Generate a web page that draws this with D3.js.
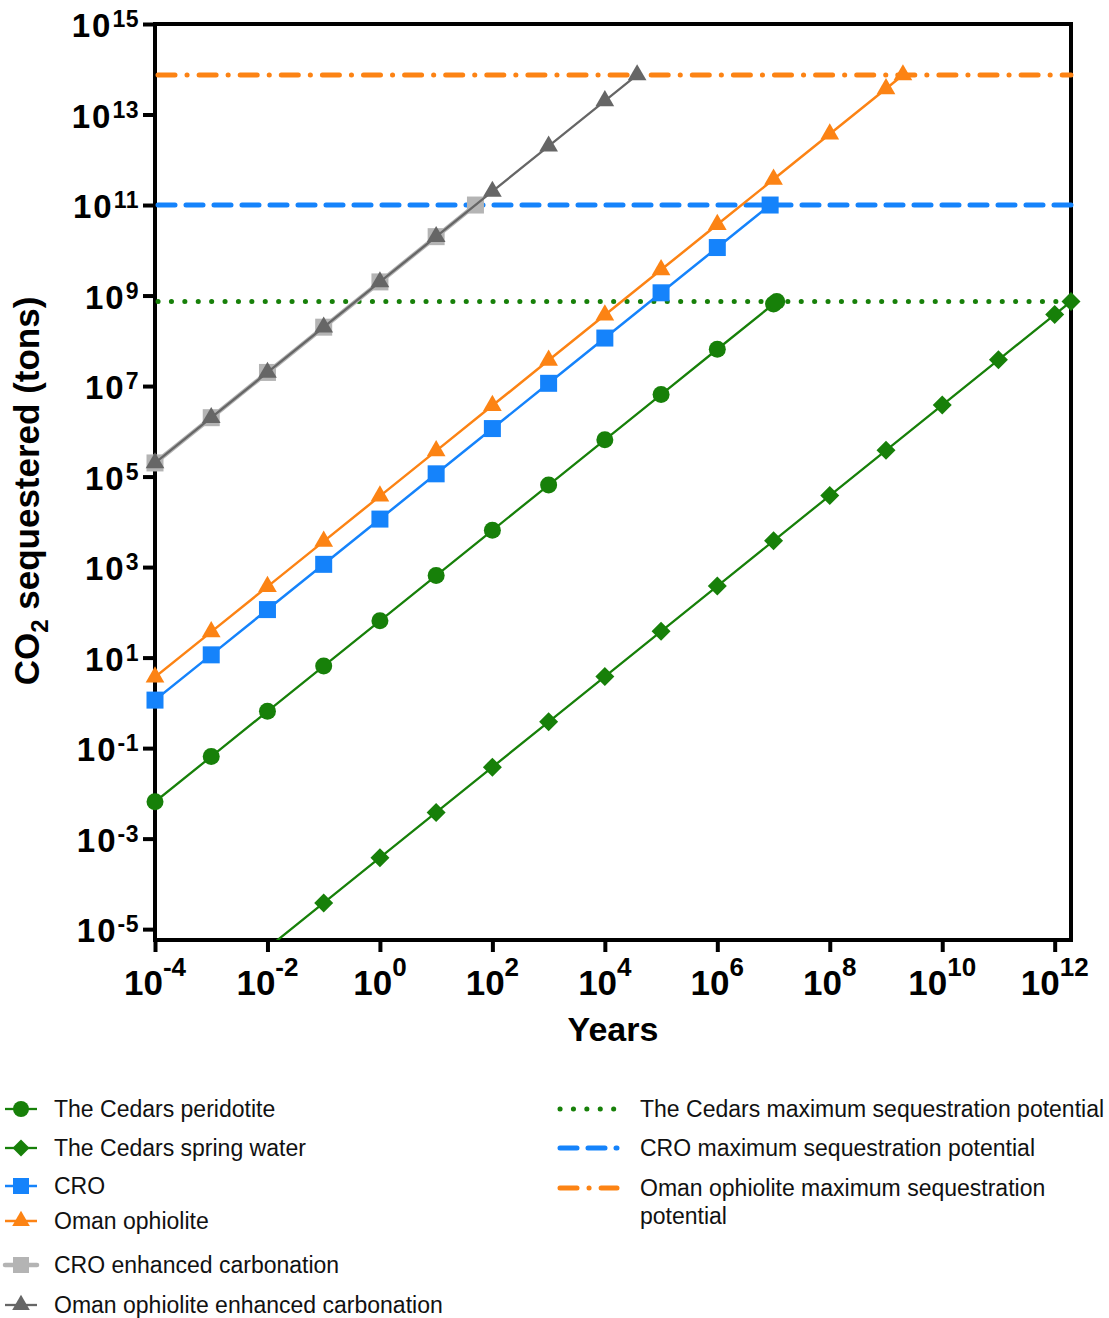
<!DOCTYPE html>
<html>
<head>
<meta charset="utf-8">
<script src="https://cdn.jsdelivr.net/npm/d3@7"></script>
<style>
  html, body { margin: 0; padding: 0; background: #fff; }
  svg { display: block; font-family: "Liberation Sans", Arial, Helvetica, sans-serif; }
</style>
</head>
<body>
<svg id="chart" width="1109" height="1318"></svg>
<script>
// ---------------- DATA ----------------
const xTickValues = [1e-4, 1e-2, 1e0, 1e2, 1e4, 1e6, 1e8, 1e10, 1e12];
const xTickExponents = ["-4", "-2", "0", "2", "4", "6", "8", "10", "12"];
const yTickValues = [1e-5, 1e-3, 1e-1, 1e1, 1e3, 1e5, 1e7, 1e9, 1e11, 1e13, 1e15];
const yTickExponents = ["-5", "-3", "-1", "1", "3", "5", "7", "9", "11", "13", "15"];

const cedarsPeridotiteYears = [1e-4, 1e-3, 1e-2, 1e-1, 1, 10, 100, 1e3, 1e4, 1e5, 1e6, 1e7, 1.14e7];
const cedarsPeridotiteTons  = [6.5e-3, 6.5e-2, 0.65, 6.5, 65, 650, 6.5e3, 6.5e4, 6.5e5, 6.5e6, 6.5e7, 6.5e8, 7.4e8];

const cedarsSpringYears = [1e-4, 1e-3, 1e-2, 1e-1, 1, 10, 100, 1e3, 1e4, 1e5, 1e6, 1e7, 1e8, 1e9, 1e10, 1e11, 1e12, 1.95e12];
const cedarsSpringTons  = [3.8e-8, 3.8e-7, 3.8e-6, 3.8e-5, 3.8e-4, 3.8e-3, 3.8e-2, 0.38, 3.8, 38, 380, 3.8e3, 3.8e4, 3.8e5, 3.8e6, 3.8e7, 3.8e8, 7.4e8];

const croYears = [1e-4, 1e-3, 1e-2, 1e-1, 1, 10, 100, 1e3, 1e4, 1e5, 1e6, 8.7e6];
const croTons  = [1.15, 11.5, 115, 1.15e3, 1.15e4, 1.15e5, 1.15e6, 1.15e7, 1.15e8, 1.15e9, 1.15e10, 1e11];

const omanYears = [1e-4, 1e-3, 1e-2, 1e-1, 1, 10, 100, 1e3, 1e4, 1e5, 1e6, 1e7, 1e8, 1e9, 2.0e9];
const omanTons  = [3.7, 37, 370, 3.7e3, 3.7e4, 3.7e5, 3.7e6, 3.7e7, 3.7e8, 3.7e9, 3.7e10, 3.7e11, 3.7e12, 3.7e13, 7.5e13];

const croEnhancedYears = [1e-4, 1e-3, 1e-2, 1e-1, 1, 10, 50];
const croEnhancedTons  = [2e5, 2e6, 2e7, 2e8, 2e9, 2e10, 1e11];

const omanEnhancedYears = [1e-4, 1e-3, 1e-2, 1e-1, 1, 10, 100, 1e3, 1e4, 3.75e4];
const omanEnhancedTons  = [2e5, 2e6, 2e7, 2e8, 2e9, 2e10, 2e11, 2e12, 2e13, 7.5e13];

const cedarsMaxTons = 7.4e8;
const croMaxTons = 1e11;
const omanMaxTons = 7.5e13;

const seriesNames = ["The Cedars peridotite", "The Cedars spring water", "CRO", "Oman ophiolite",
                     "CRO enhanced carbonation", "Oman ophiolite enhanced carbonation"];
const maxNames = ["The Cedars maximum sequestration potential", "CRO maximum sequestration potential",
                  ["Oman ophiolite maximum sequestration", "potential"]];

// ---------------- STYLE ----------------
const GREEN = "#178009", BLUE = "#1583fb", ORANGE = "#fc8314", DGRAY = "#666666", LGRAY = "#b4b4b4";

const svg = d3.select("#chart");
const L = 155, R = 1071, T = 24, B = 940;

const x = d3.scaleLog().domain([1e-4, 1.95e12]).range([L, R]);
const y = d3.scaleLog().domain([Math.pow(10, -5.24), 1e15]).range([B, T]);

svg.append("defs").append("clipPath").attr("id", "plotclip")
  .append("rect").attr("x", L).attr("y", T).attr("width", R - L).attr("height", B - T);

function markerPath(type, s) {
  if (type === "circle") { const r = s / 2; return `M${-r},0A${r},${r} 0 1,0 ${r},0A${r},${r} 0 1,0 ${-r},0Z`; }
  if (type === "square") { const h = s / 2; return `M${-h},${-h}H${h}V${h}H${-h}Z`; }
  if (type === "diamond") { const h = s / 2 + 1.5; return `M0,${-h}L${h},0L0,${h}L${-h},0Z`; }
  if (type === "triangle") { const w = s * 1.1 / 2, hh = s * 0.95; return `M0,${-hh * 2 / 3}L${w},${hh / 3}L${-w},${hh / 3}Z`; }
}

// ---------------- AXES ----------------
const axesG = svg.append("g");

const yAxis = d3.axisLeft(y).tickValues(yTickValues).tickSize(12).tickFormat("");
const yg = axesG.append("g").attr("transform", `translate(${L},0)`).call(yAxis);
yg.select(".domain").remove();
yg.selectAll(".tick line").attr("stroke", "#000").attr("stroke-width", 4);

const xAxis = d3.axisBottom(x).tickValues(xTickValues).tickSize(12).tickFormat("");
const xg = axesG.append("g").attr("transform", `translate(0,${B})`).call(xAxis);
xg.select(".domain").remove();
xg.selectAll(".tick line").attr("stroke", "#000").attr("stroke-width", 4);

yTickValues.forEach((v, i) => {
  const t = axesG.append("text").attr("x", L - 16).attr("y", y(v) + 13)
    .attr("text-anchor", "end").attr("font-weight", "bold").attr("font-size", 33)
    .attr("letter-spacing", 2).attr("fill", "#000");
  t.append("tspan").text("10");
  t.append("tspan").attr("dy", -10).attr("font-size", 23).attr("letter-spacing", 0.5).text(yTickExponents[i]);
});
xTickValues.forEach((v, i) => {
  const t = axesG.append("text").attr("x", x(v)).attr("y", B + 55)
    .attr("text-anchor", "middle").attr("font-weight", "bold").attr("font-size", 35).attr("fill", "#000");
  t.append("tspan").text("10");
  t.append("tspan").attr("dy", -19).attr("font-size", 26).text(xTickExponents[i]);
});

svg.append("text").attr("x", 613).attr("y", 1041).attr("text-anchor", "middle")
  .attr("font-weight", "bold").attr("font-size", 34).text("Years");
const yl = svg.append("text").attr("transform", "translate(39,491) rotate(-90)")
  .attr("text-anchor", "middle").attr("font-weight", "bold").attr("font-size", 35);
yl.append("tspan").text("CO");
yl.append("tspan").attr("dy", 9).attr("font-size", 24).text("2");
yl.append("tspan").attr("dy", -9).text(" sequestered (tons)");

// ---------------- MAX LINES ----------------
const maxG = svg.append("g");
const maxStyles = [
  { v: cedarsMaxTons, color: GREEN, dash: "0.1 13.3", w: 5 },
  { v: croMaxTons, color: BLUE, dash: "17 11", w: 5 },
  { v: omanMaxTons, color: ORANGE, dash: "17 12 0.1 12", w: 5 }
];
maxStyles.forEach(m => {
  maxG.append("line").attr("x1", L + 3).attr("x2", R).attr("y1", y(m.v)).attr("y2", y(m.v))
    .attr("stroke", m.color).attr("stroke-width", m.w).attr("stroke-dasharray", m.dash)
    .attr("stroke-linecap", "round");
});

// ---------------- SERIES ----------------
const series = [
  { name: seriesNames[0], xs: cedarsPeridotiteYears, ys: cedarsPeridotiteTons, color: GREEN, marker: "circle", size: 17, lw: 2.3 },
  { name: seriesNames[1], xs: cedarsSpringYears, ys: cedarsSpringTons, color: GREEN, marker: "diamond", size: 16, lw: 2.3 },
  { name: seriesNames[2], xs: croYears, ys: croTons, color: BLUE, marker: "square", size: 17, lw: 2.5 },
  { name: seriesNames[3], xs: omanYears, ys: omanTons, color: ORANGE, marker: "triangle", size: 17, lw: 2.5 },
  { name: seriesNames[4], xs: croEnhancedYears, ys: croEnhancedTons, color: LGRAY, marker: "square", size: 17, lw: 4.5 },
  { name: seriesNames[5], xs: omanEnhancedYears, ys: omanEnhancedTons, color: DGRAY, marker: "triangle", size: 17, lw: 2.3 }
];

const line = d3.line().x(d => x(d[0])).y(d => y(d[1]));
const serG = svg.append("g");
series.forEach(s => {
  const pts = s.xs.map((v, i) => [v, s.ys[i]]);
  const g = serG.append("g");
  g.append("path").attr("d", line(pts)).attr("fill", "none").attr("stroke", s.color)
    .attr("stroke-width", s.lw).attr("clip-path", "url(#plotclip)");
  const vis = pts.filter(p => y(p[1]) <= B + 1 && y(p[1]) >= T - 1);
  g.selectAll("path.mk").data(vis).enter().append("path").attr("class", "mk")
    .attr("transform", d => `translate(${x(d[0])},${y(d[1])})`)
    .attr("d", markerPath(s.marker, s.size)).attr("fill", s.color);
});

svg.append("path").attr("d", `M${L},${T}H${R}V${B}H${L}Z`).attr("fill", "none")
  .attr("stroke", "#000").attr("stroke-width", 4).lower();
axesG.lower();

// ---------------- LEGEND ----------------
const legG = svg.append("g").attr("font-size", 23).attr("fill", "#111");
const leftRows = [1109, 1148, 1186, 1221, 1265, 1305];
series.forEach((s, i) => {
  const cy = leftRows[i];
  legG.append("line").attr("x1", 5).attr("x2", 37).attr("y1", cy).attr("y2", cy)
    .attr("stroke", s.color).attr("stroke-width", s.lw).attr("stroke-linecap", s.lw > 3 ? "round" : "butt");
  legG.append("path").attr("transform", `translate(21,${cy})`)
    .attr("d", markerPath(s.marker, s.marker === "circle" ? 16 : s.marker === "diamond" ? 14 : 16)).attr("fill", s.color);
  legG.append("text").attr("x", 54).attr("y", cy + 8).text(s.name);
});
const rightRows = [1109, 1148, 1188];
maxStyles.forEach((m, i) => {
  const cy = rightRows[i];
  legG.append("line").attr("x1", 560).attr("x2", 617).attr("y1", cy).attr("y2", cy)
    .attr("stroke", m.color).attr("stroke-width", m.w).attr("stroke-dasharray", m.dash)
    .attr("stroke-linecap", "round");
  const t = legG.append("text").attr("x", 640).attr("y", cy + 8);
  const nm = maxNames[i];
  if (Array.isArray(nm)) {
    t.append("tspan").attr("x", 640).text(nm[0]);
    t.append("tspan").attr("x", 640).attr("dy", 28).text(nm[1]);
  } else t.text(nm);
});
</script>
</body>
</html>
